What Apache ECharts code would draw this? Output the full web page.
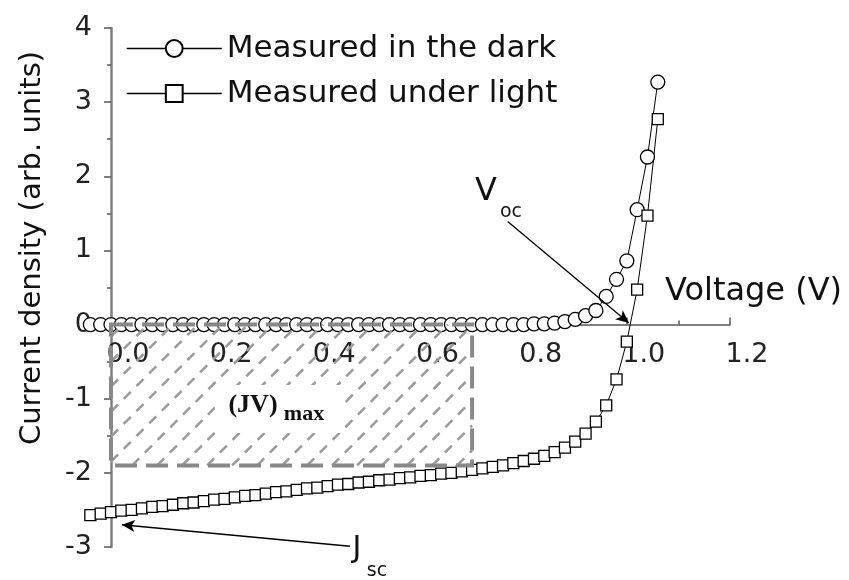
<!DOCTYPE html>
<html><head><meta charset="utf-8">
<script src="https://cdn.jsdelivr.net/npm/echarts@6/dist/echarts.min.js"></script>
<style>html,body{margin:0;padding:0;background:#fff}#c{width:849px;height:580px}</style>
</head><body><div id="c"></div>
<script>
// ---- data ----
const voltage = [-0.04,-0.02,0.00,0.02,0.04,0.06,0.08,0.10,0.12,0.14,0.16,0.18,0.20,0.22,0.24,0.26,0.28,0.30,0.32,0.34,0.36,0.38,0.40,0.42,0.44,0.46,0.48,0.50,0.52,0.54,0.56,0.58,0.60,0.62,0.64,0.66,0.68,0.70,0.72,0.74,0.76,0.78,0.80,0.82,0.84,0.86,0.88,0.90,0.92,0.94,0.96,0.98,1.00,1.02,1.04,1.06];
const darkJ = [0,0,0,0,0,0,0,0,0,0,0,0,0,0,0,0,0,0,0,0,0,0,0,0,0,0,0,0,0,0,0,0,0,0,0,0,0,0,0,0,0,0,0.00,0.01,0.01,0.02,0.04,0.07,0.12,0.19,0.38,0.61,0.86,1.55,2.26,3.27];
const lightJ = [-2.57,-2.55,-2.53,-2.51,-2.50,-2.48,-2.46,-2.45,-2.43,-2.41,-2.40,-2.38,-2.36,-2.35,-2.33,-2.31,-2.30,-2.28,-2.26,-2.25,-2.23,-2.21,-2.20,-2.18,-2.16,-2.15,-2.13,-2.12,-2.10,-2.09,-2.07,-2.06,-2.04,-2.03,-2.01,-2.00,-1.98,-1.96,-1.94,-1.92,-1.90,-1.87,-1.84,-1.81,-1.77,-1.72,-1.66,-1.58,-1.47,-1.31,-1.09,-0.74,-0.23,0.47,1.47,2.77];
const seriesNames = ['Measured in the dark', 'Measured under light'];
const xTicks = [0.0, 0.2, 0.4, 0.6, 0.8, 1.0, 1.2];
const yTicks = [-3, -2, -1, 0, 1, 2, 3, 4];
// maximum power rectangle: [V0, J0, Vmp, Jmp]
const mppRect = [0.0, 0.0, 0.70, -1.90];
// arrows: [from, to] in data units
const vocArrow = [[0.769, 1.39], [1.004, 0.02]];
const jscArrow = [[0.463, -2.99], [0.021, -2.70]];

const F = 'DejaVu Sans';
const W = 849, H = 580;
const gridL = 111, gridR = 119, gridT = 28, gridB = 33;
const yMin = yTicks[0], yMax = yTicks[yTicks.length - 1];
// pixel row of J = 0 inside the main grid (the x axis crosses there)
const zeroRow = gridT + (yMax - 0) / (yMax - yMin) * (H - gridT - gridB);

const chart = echarts.init(document.getElementById('c'), null, {renderer: 'canvas'});
const zip = (a, b) => a.map((v, i) => [v, b[i]]);
const arrowEnd = (p) => ({coord: p, symbol: 'arrow', symbolSize: [9, 13], itemStyle: {color: '#000'}});
const arrowStart = (p) => ({coord: p, symbol: 'none'});

chart.setOption({
  animation: false,
  backgroundColor: '#fff',
  grid: [
    {left: gridL, right: gridR, top: gridT, bottom: gridB, containLabel: false},
    {left: gridL, right: gridR, top: gridT, bottom: H - zeroRow, containLabel: false}
  ],
  legend: {
    data: seriesNames, orient: 'vertical', left: 121, top: 28,
    itemWidth: 95, itemHeight: 21, itemGap: 14,
    lineStyle: {width: 1.5, color: '#000'},
    textStyle: {fontFamily: F, fontSize: 31, color: '#111'}
  },
  xAxis: [
    {type: 'value', gridIndex: 0, min: xTicks[0], max: xTicks[xTicks.length - 1], interval: 0.2, show: false},
    {
      type: 'value', gridIndex: 1, position: 'bottom', min: xTicks[0], max: xTicks[xTicks.length - 1], interval: 0.2,
      axisLine: {onZero: false, lineStyle: {color: '#808080', width: 2}},
      axisTick: {inside: true, length: 7, lineStyle: {color: '#555', width: 1.5}},
      minorTick: {show: true, splitNumber: 2, length: 4, lineStyle: {color: '#555', width: 1.5}},
      splitLine: {show: false},
      axisLabel: {formatter: v => v.toFixed(1), fontFamily: F, fontSize: 27, color: '#222', margin: 17, padding: [0, 0, 0, 34]}
    }
  ],
  yAxis: [
    {
      type: 'value', gridIndex: 0, min: yMin, max: yMax, interval: 1,
      axisLine: {onZero: false, lineStyle: {color: '#808080', width: 2.5}},
      axisTick: {inside: false, length: 7, lineStyle: {color: '#555', width: 1.5}},
      minorTick: {show: true, splitNumber: 2, length: 4, lineStyle: {color: '#555', width: 1.5}},
      splitLine: {show: false},
      axisLabel: {fontFamily: F, fontSize: 27, color: '#222', margin: 19}
    },
    {type: 'value', gridIndex: 1, min: 0, max: 1, show: false}
  ],
  series: [
    {
      name: seriesNames[0], type: 'line', xAxisIndex: 0, yAxisIndex: 0, data: zip(voltage, darkJ),
      symbol: 'circle', symbolSize: 14, clip: false, z: 2,
      lineStyle: {color: '#000', width: 1},
      itemStyle: {color: '#fff', borderColor: '#000', borderWidth: 1.3}
    },
    {
      name: seriesNames[1], type: 'line', xAxisIndex: 0, yAxisIndex: 0, data: zip(voltage, lightJ),
      symbol: 'rect', symbolSize: 11, clip: false, z: 2,
      lineStyle: {color: '#000', width: 1},
      itemStyle: {color: '#fff', borderColor: '#000', borderWidth: 1.3},
      markLine: {
        silent: true, symbol: ['none', 'arrow'], symbolSize: 12,
        itemStyle: {color: '#000', borderColor: '#000'},
        lineStyle: {color: '#000', width: 1.3, type: 'solid'},
        label: {show: false},
        emphasis: {disabled: true},
        data: [
          [arrowStart(vocArrow[0]), arrowEnd(vocArrow[1])],
          [arrowStart(jscArrow[0]), arrowEnd(jscArrow[1])]
        ]
      }
    },
    {
      type: 'custom', xAxisIndex: 0, yAxisIndex: 0, z: 3, clip: false, silent: true,
      data: [mppRect],
      encode: {x: [0, 2], y: [1, 3]},
      renderItem: function (params, api) {
        const p0 = api.coord([api.value(0), api.value(1)]);
        const p1 = api.coord([api.value(2), api.value(3)]);
        const xL = Math.min(p0[0], p1[0]), xR = Math.max(p0[0], p1[0]);
        const yT = Math.min(p0[1], p1[1]), yB = Math.max(p0[1], p1[1]);
        const children = [];
        const step = 25;
        for (let c = xL + yT + 12; c < xR + yB; c += step) {
          const xa = Math.max(xL, c - yB), xb = Math.min(xR, c - yT);
          if (xb - xa < 3) continue;
          children.push({type: 'line', shape: {x1: xa, y1: c - xa, x2: xb, y2: c - xb},
            style: {stroke: '#9a9a9a', lineWidth: 2.5, lineDash: [10, 8]}});
        }
        children.push({type: 'rect', shape: {x: xL, y: yT, width: xR - xL, height: yB - yT},
          style: {fill: 'rgba(0,0,0,0)', stroke: '#888', lineWidth: 4, lineDash: [22, 9]}});
        return {type: 'group', children: children};
      }
    }
  ],
  graphic: [
    {type: 'text', x: 32, y: 248, rotation: Math.PI / 2, z: 100,
      style: {text: 'Current density (arb. units)', font: '29px "DejaVu Sans"', fill: '#111', align: 'center', verticalAlign: 'middle', textAlign: 'center', textVerticalAlign: 'middle'}},
    {type: 'text', x: 665, y: 292, z: 100,
      style: {text: 'Voltage (V)', font: '32px "DejaVu Sans"', fill: '#111', align: 'left', verticalAlign: 'middle', textAlign: 'left', textVerticalAlign: 'middle'}},
    {type: 'text', x: 486, y: 192, z: 100,
      style: {text: 'V', font: '32px "DejaVu Sans"', fill: '#111', align: 'center', verticalAlign: 'middle', textAlign: 'center', textVerticalAlign: 'middle'}},
    {type: 'text', x: 511, y: 212, z: 100,
      style: {text: 'oc', font: '19px "DejaVu Sans"', fill: '#111', align: 'center', verticalAlign: 'middle', textAlign: 'center', textVerticalAlign: 'middle'}},
    {type: 'text', x: 357, y: 549, z: 100,
      style: {text: 'J', font: '30px "DejaVu Sans"', fill: '#111', align: 'center', verticalAlign: 'middle', textAlign: 'center', textVerticalAlign: 'middle'}},
    {type: 'text', x: 377, y: 571, z: 100,
      style: {text: 'sc', font: '19px "DejaVu Sans"', fill: '#111', align: 'center', verticalAlign: 'middle', textAlign: 'center', textVerticalAlign: 'middle'}},
    {type: 'rect', z: 99, shape: {x: 215, y: 385, width: 130, height: 48}, style: {fill: '#fff'}},
    {type: 'text', x: 253, y: 405, z: 100,
      style: {text: '(JV)', font: 'bold 26px "Liberation Serif"', fill: '#111', align: 'center', verticalAlign: 'middle', textAlign: 'center', textVerticalAlign: 'middle'}},
    {type: 'text', x: 304, y: 414, z: 100,
      style: {text: 'max', font: 'bold 22px "Liberation Serif"', fill: '#111', align: 'center', verticalAlign: 'middle', textAlign: 'center', textVerticalAlign: 'middle'}}
  ]
});
</script>
</body></html>
